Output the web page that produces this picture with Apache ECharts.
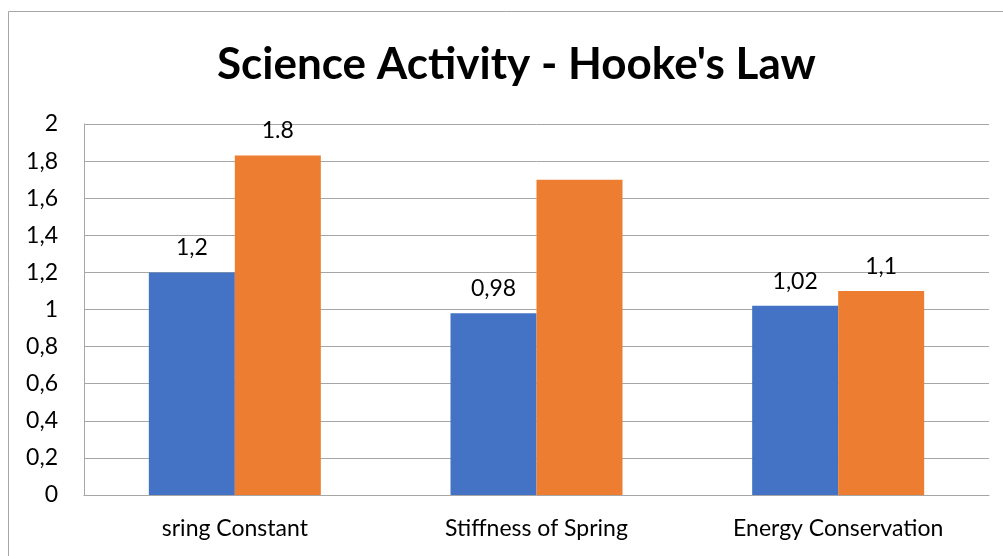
<!DOCTYPE html>
<html>
<head>
<meta charset="utf-8">
<script src="https://cdn.jsdelivr.net/npm/echarts@6/dist/echarts.min.js"></script>
<style>
  html, body { margin: 0; padding: 0; background: #fff; }
  #main { width: 1003px; height: 556px; }
</style>
</head>
<body>
<div id="main"></div>
<script>
// data
var categories = ['sring Constant', 'Stiffness of Spring', 'Energy Conservation'];
var blueValues = [1.2, 0.98, 1.02];
var orangeValues = [1.83, 1.7, 1.1];
var blueLabels = ['1,2', '0,98', '1,02'];
var orangeLabels = ['1.8', '', '1,1'];
var yTicks = ['0', '0,2', '0,4', '0,6', '0,8', '1', '1,2', '1,4', '1,6', '1,8', '2'];

var font = 'Lato, "Open Sans", sans-serif';
var chart = echarts.init(document.getElementById('main'));

var option = {
  animation: false,
  title: {
    text: "Science Activity - Hooke's Law",
    left: 212,
    top: 38,
    textStyle: { fontFamily: font, fontWeight: 'bold', fontSize: 44, color: '#000' }
  },
  graphic: [{
    type: 'rect',
    shape: { x: 8.5, y: 11.5, width: 1100, height: 700 },
    style: { fill: 'none', stroke: '#a6a6a6', lineWidth: 1 }
  }],
  grid: { left: 84, right: 14, top: 124, bottom: 61 },
  xAxis: {
    type: 'category',
    data: categories,
    axisTick: { show: false },
    axisLine: { lineStyle: { color: '#a6a6a6', width: 1 } },
    axisLabel: { fontFamily: font, fontSize: 23, color: '#000', margin: 22 }
  },
  yAxis: {
    type: 'value',
    min: 0,
    max: 2,
    interval: 0.2,
    axisLine: { show: true, lineStyle: { color: '#a6a6a6', width: 1 } },
    splitLine: { lineStyle: { color: '#a6a6a6', width: 1 } },
    axisLabel: {
      fontFamily: font, fontSize: 23, color: '#000', margin: 26,
      formatter: function (v) { return yTicks[Math.round(v / 0.2)]; }
    }
  },
  series: [
    {
      type: 'bar',
      data: blueValues,
      barWidth: 86,
      barGap: '0%',
      itemStyle: { color: '#4472C4' },
      label: {
        show: true, position: 'top', distance: 13,
        fontFamily: font, fontSize: 23, color: '#000',
        formatter: function (p) { return blueLabels[p.dataIndex]; }
      }
    },
    {
      type: 'bar',
      data: orangeValues,
      barWidth: 86,
      barGap: '0%',
      itemStyle: { color: '#ED7D31' },
      label: {
        show: true, position: 'top', distance: 13,
        fontFamily: font, fontSize: 23, color: '#000',
        formatter: function (p) { return orangeLabels[p.dataIndex]; }
      }
    }
  ]
};
chart.setOption(option);
</script>
</body>
</html>
